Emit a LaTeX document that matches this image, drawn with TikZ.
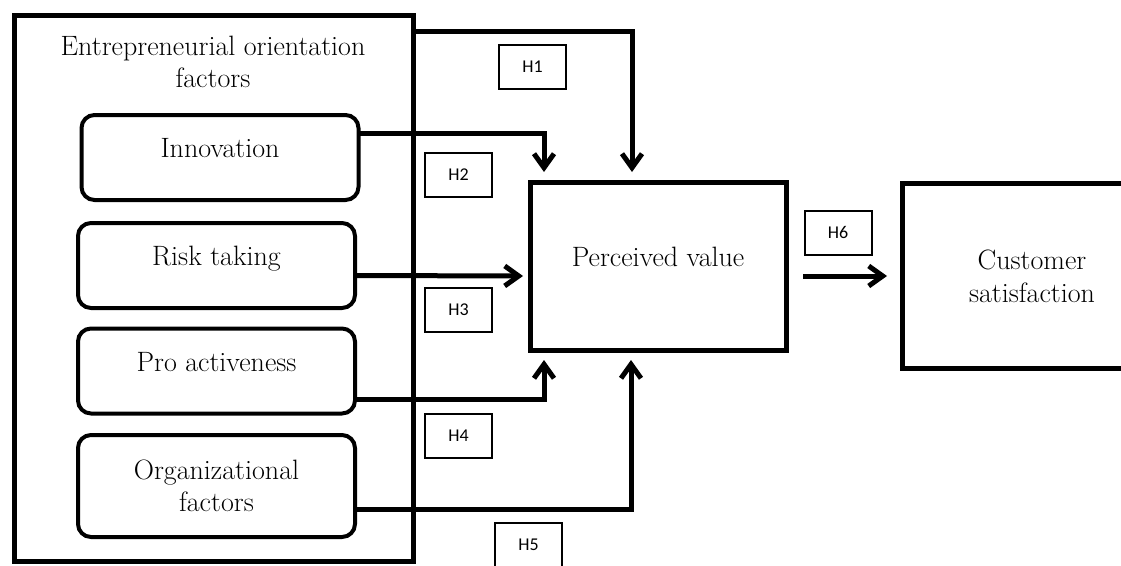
\documentclass[tikz,border=0pt]{standalone}
\usepackage{fontspec}
\newfontfamily\hfont{Carlito}
\usetikzlibrary{positioning,arrows.meta}
\tikzset{
  flowarrow/.style={-{Straight Barb[length=14pt, width=20pt]}, line width=5pt},
  groupbox/.style={draw, line width=5pt, minimum width=399pt, minimum height=546pt, outer sep=0pt},
  factorbox/.style={draw, rounded corners=13pt, line width=4pt, minimum width=277pt, minimum height=85pt, outer sep=0pt, align=center, font=\fontsize{28}{32}\selectfont},
  oneline/.style={text height=19pt, text depth=19pt},
  mainbox/.style={draw, line width=5pt, outer sep=0pt, align=center, font=\fontsize{28}{33}\selectfont},
  hbox/.style={draw, line width=2pt, minimum width=67pt, minimum height=44pt, inner sep=0pt, font=\hfont\fontsize{18}{21}\selectfont}
}
\begin{document}
\begin{tikzpicture}[x=1pt, y=-1pt, >=Latex]
  \path[use as bounding box, clip] (0,0) rectangle (1121,565);
  % left group
  \node[groupbox] (eo) at (213.5,288) {};
  \node[align=center, font=\fontsize{28}{32}\selectfont] (eotitle) at (213,62) {Entrepreneurial orientation\\factors};
  \node[factorbox, oneline] (inno) at (220,157.5) {Innovation};
  \node[factorbox, oneline] (risk) at (216.5,265.5) {Risk taking};
  \node[factorbox, oneline] (pro) at (216.5,371) {Pro activeness};
  \node[factorbox, minimum height=102pt] (org) at (216.5,486) {Organizational\\factors};
  % outcomes
  \node[mainbox, oneline, minimum width=256pt, minimum height=168pt] (pv) at (658,266) {Perceived value};
  \node[mainbox, minimum width=260pt, minimum height=185pt] (cs) at (1032,276) {Customer\\satisfaction};
  % hypotheses
  \node[hbox] (h1) at (532.5,67) {H1};
  \node[hbox] (h2) at (458.5,174.5) {H2};
  \node[hbox] (h3) at (458.5,309.5) {H3};
  \node[hbox] (h4) at (458.5,435.5) {H4};
  \node[hbox] (h5) at (528.5,545) {H5};
  \node[hbox] (h6) at (838,232.5) {H6};
  % paths
  \draw[flowarrow] ([yshift=-16pt]eo.north east) -| ([xshift=-26pt,yshift=10pt]pv.north);
  \draw[flowarrow] ([yshift=24.5pt]inno.east) -| ([xshift=14pt,yshift=10pt]pv.north west);
  \draw[flowarrow] ([yshift=-10pt]risk.east) -- ([xshift=-7pt,yshift=-10pt]pv.west);
  \draw[flowarrow] ([yshift=-28pt]pro.east) -| ([xshift=14pt,yshift=-10pt]pv.south west);
  \draw[flowarrow] ([yshift=-23pt]org.east) -| ([xshift=-27pt,yshift=-10pt]pv.south);
  \draw[flowarrow] ([xshift=17pt,yshift=-10pt]pv.east) -- ([xshift=-15pt]cs.west);
\end{tikzpicture}
\end{document}
